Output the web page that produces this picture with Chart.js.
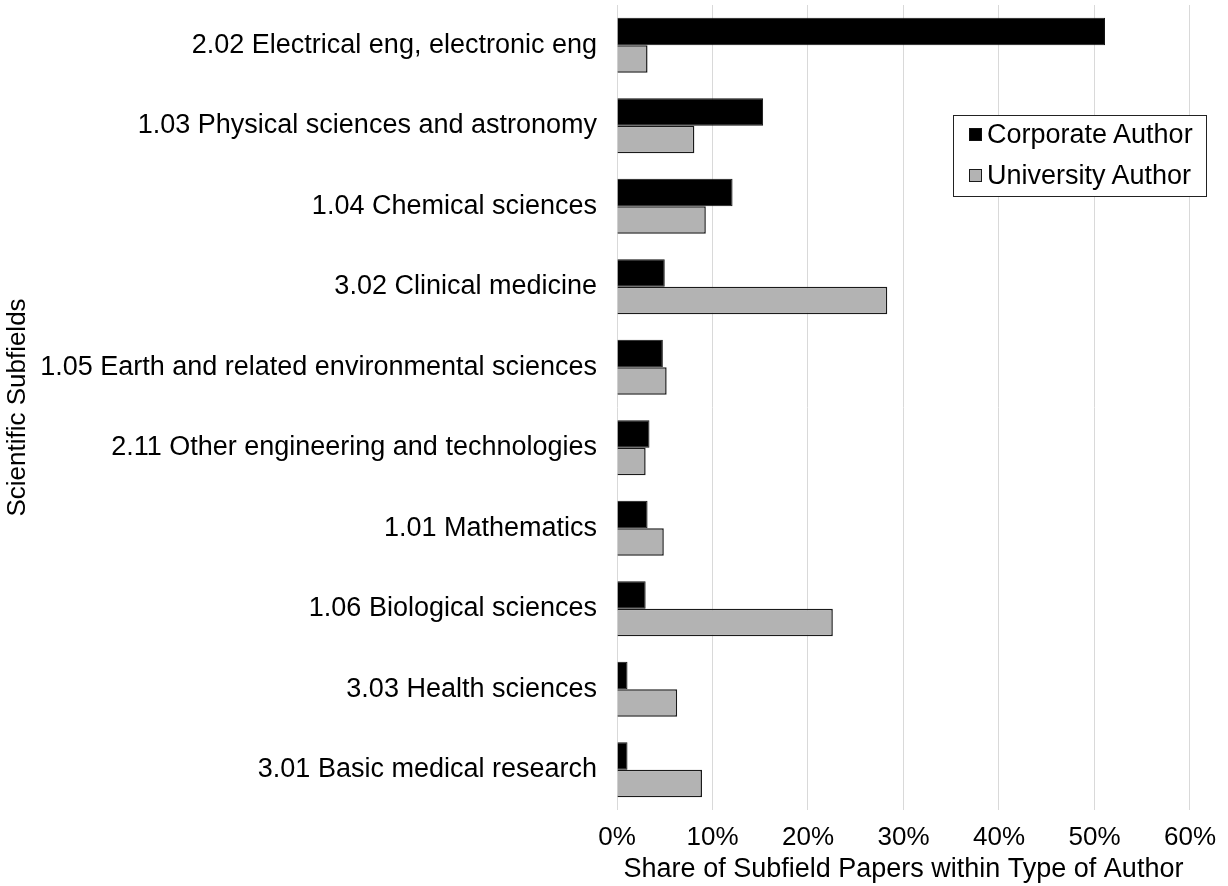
<!DOCTYPE html>
<html>
<head>
<meta charset="utf-8">
<script src="https://cdn.jsdelivr.net/npm/chart.js@4/dist/chart.umd.min.js"></script>
<style>
  body { margin: 0; background: #fff; }
  .wrap { position: relative; width: 1228px; height: 886px; }
  #subfield-legend {
    position: absolute; left: 953px; top: 115px; width: 254px; height: 82px;
    border: 1.5px solid #222; background: #fff; box-sizing: border-box;
    font-family: "Liberation Sans", Arial, sans-serif; font-size: 27px; color: #000;
    padding: 0 0 0 15px;
  }
  #subfield-legend .row { display: flex; align-items: center; height: 41px; position: relative; top: -2px; }
  #subfield-legend .box { width: 13px; height: 13px; margin-right: 5px; box-sizing: border-box; }
</style>
</head>
<body>
<div class="wrap">
  <canvas id="subfield-chart" width="1228" height="886"></canvas>
  <div id="subfield-legend"></div>
</div>
<script>
const subfields = [
  '2.02 Electrical eng, electronic eng',
  '1.03 Physical sciences and astronomy',
  '1.04 Chemical sciences',
  '3.02 Clinical medicine',
  '1.05 Earth and related environmental sciences',
  '2.11 Other engineering and technologies',
  '1.01 Mathematics',
  '1.06 Biological sciences',
  '3.03 Health sciences',
  '3.01 Basic medical research'
];
const corporateShare = [51.1, 15.3, 12.1, 5.0, 4.8, 3.4, 3.2, 3.0, 1.1, 1.1];
const universityShare = [3.2, 8.1, 9.3, 28.3, 5.2, 3.0, 4.9, 22.6, 6.3, 8.9];
const xTicks = [0, 10, 20, 30, 40, 50, 60];

const fontFamily = '"Liberation Sans", Arial, sans-serif';
const ctx = document.getElementById('subfield-chart');

const subfieldChart = new Chart(ctx, {
  type: 'bar',
  data: {
    labels: subfields,
    datasets: [{
      label: 'Corporate Author',
      data: corporateShare,
      backgroundColor: '#000',
      borderColor: '#111',
      borderWidth: 1
    }, {
      label: 'University Author',
      data: universityShare,
      backgroundColor: '#b3b3b3',
      borderColor: '#1a1a1a',
      borderWidth: 1.5
    }]
  },
  options: {
    indexAxis: 'y',
    responsive: false,
    animation: false,
    devicePixelRatio: 1,
    layout: { padding: { top: 5, right: 36, bottom: 0, left: 0 } },
    datasets: { bar: { categoryPercentage: 0.684, barPercentage: 1 } },
    plugins: { legend: { display: false }, tooltip: { enabled: false } },
    scales: {
      x: {
        min: xTicks[0],
        max: xTicks[xTicks.length - 1],
        afterBuildTicks: axis => { axis.ticks = xTicks.map(v => ({ value: v })); },
        afterFit: axis => { axis.height = 76; },
        grid: { color: '#d9d9d9', lineWidth: 1, drawTicks: false },
        border: { display: false },
        ticks: {
          padding: 12,
          color: '#000',
          font: { family: fontFamily, size: 26 },
          callback: v => v + '%'
        },
        title: {
          display: true,
          text: 'Share of Subfield Papers within Type of Author',
          color: '#000',
          font: { family: fontFamily, size: 27 },
          padding: { top: 0, bottom: 0 }
        }
      },
      y: {
        // fixed axis box so the plot starts at x=617 and the labels don't push the top down
        afterFit: axis => {
          axis.width = 617;
          axis.paddingTop = 0;
          axis.paddingBottom = 0;
        },
        grid: { display: false, drawTicks: false },
        border: { display: false },
        ticks: {
          padding: 20,
          color: '#000',
          font: { family: fontFamily, size: 27 }
        },
        title: {
          display: true,
          text: 'Scientific Subfields',
          color: '#000',
          font: { family: fontFamily, size: 26 },
          padding: { top: 2, bottom: 0 }
        }
      }
    }
  }
});

// legend box built from the chart's own datasets
const legendEl = document.getElementById('subfield-legend');
subfieldChart.data.datasets.forEach(ds => {
  const row = document.createElement('div');
  row.className = 'row';
  const box = document.createElement('span');
  box.className = 'box';
  box.style.background = ds.backgroundColor;
  box.style.border = '1px solid ' + ds.borderColor;
  const txt = document.createElement('span');
  txt.textContent = ds.label;
  row.appendChild(box);
  row.appendChild(txt);
  legendEl.appendChild(row);
});
</script>
</body>
</html>
